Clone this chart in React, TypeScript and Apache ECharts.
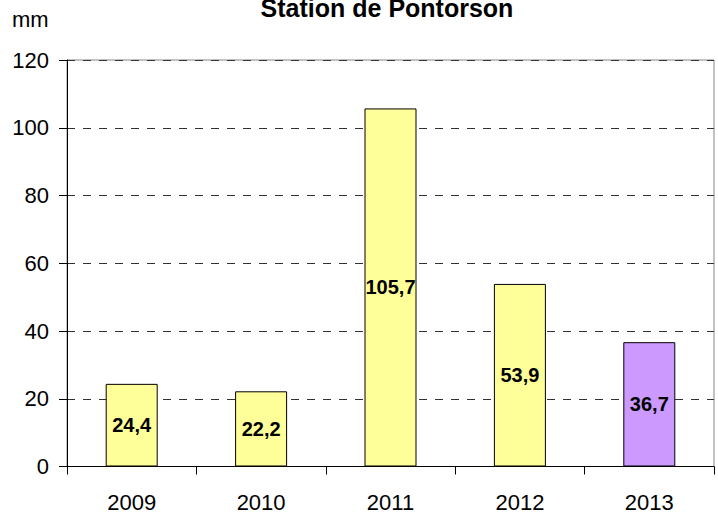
import React, { useEffect, useRef } from "react";
import * as echarts from "echarts";

const categories = ["2009", "2010", "2011", "2012", "2013"];
const values = [24.4, 22.2, 105.7, 53.9, 36.7];
const barColors = ["#FFFF99", "#FFFF99", "#FFFF99", "#FFFF99", "#CC99FF"];
const yTicks = { min: 0, max: 120, interval: 20 };
const titleText = "Station de Pontorson";
const unitText = "mm";

const FONT = "'Liberation Sans', Arial, sans-serif";

export default function App() {
  const ref = useRef<HTMLDivElement>(null);
  useEffect(() => {
    document.body.style.margin = "0";
    document.body.style.overflow = "hidden";
    if (!ref.current) return;
    const chart = echarts.init(ref.current, null, { renderer: "svg" });
    chart.setOption({
      animation: false,
      backgroundColor: "#ffffff",
      grid: {
        left: 67,
        right: 4,
        top: 60,
        bottom: 49.5,
        show: true,
        borderColor: "#888888",
        borderWidth: 1,
        backgroundColor: "transparent",
      },
      graphic: [
        {
          type: "text",
          x: 387,
          y: 7.7,
          style: {
            text: titleText,
            font: `bold 25px ${FONT}`,
            fill: "#000",
            textAlign: "center",
            textVerticalAlign: "middle",
          },
        },
        {
          type: "text",
          x: 12,
          y: 19.5,
          style: {
            text: unitText,
            font: `22px ${FONT}`,
            fill: "#000",
            textAlign: "left",
            textVerticalAlign: "middle",
          },
        },
      ],
      xAxis: {
        type: "category",
        data: categories,
        boundaryGap: true,
        axisLine: { show: true, lineStyle: { color: "#000", width: 1 } },
        axisTick: { show: true, length: 8, lineStyle: { color: "#000" } },
        axisLabel: {
          color: "#000",
          fontFamily: FONT,
          fontSize: 22,
          margin: 25,
        },
        splitLine: { show: false },
      },
      yAxis: {
        type: "value",
        min: yTicks.min,
        max: yTicks.max,
        interval: yTicks.interval,
        axisLine: { show: true, lineStyle: { color: "#000", width: 1 } },
        axisTick: { show: true, length: 8, lineStyle: { color: "#000" } },
        axisLabel: {
          color: "#000",
          fontFamily: FONT,
          fontSize: 22,
          margin: 18,
        },
        splitLine: {
          show: true,
          lineStyle: { color: "#333", type: [8, 8], width: 1 },
        },
      },
      series: [
        {
          type: "bar",
          barWidth: 52,
          data: values.map((v, i) => ({
            value: v,
            itemStyle: { color: barColors[i] },
          })),
          itemStyle: { borderColor: "#000", borderWidth: 1 },
          label: {
            show: true,
            position: "inside",
            color: "#000",
            fontFamily: FONT,
            fontWeight: "bold",
            fontSize: 20,
            formatter: (p: any) => String(p.value).replace(".", ","),
          },
        },
      ],
    });
    return () => chart.dispose();
  }, []);
  return <div ref={ref} style={{ width: 718, height: 516 }} />;
}
